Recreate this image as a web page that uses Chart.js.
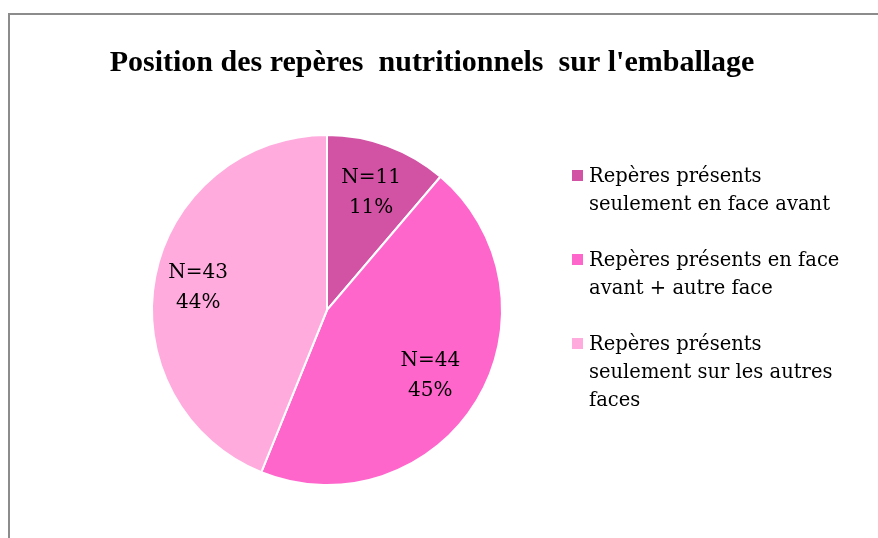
<!DOCTYPE html>
<html>
<head>
<meta charset="utf-8">
<script src="https://cdn.jsdelivr.net/npm/chart.js@4/dist/chart.umd.min.js"></script>
<style>
html,body{margin:0;padding:0;background:#fff;overflow:hidden;}
canvas{display:block;}
</style>
</head>
<body>
<canvas id="c" width="878" height="538"></canvas>
<script>
const chartTitle = "Position des repères  nutritionnels  sur l'emballage";
const categories = [
  ["Repères présents", "seulement en face avant"],
  ["Repères présents en face", "avant + autre face"],
  ["Repères présents", "seulement sur les autres", "faces"]
];
const counts = [11, 44, 43];
const percentLabels = ["11%", "45%", "44%"];
const colors = ["#D252A4", "#FF66CC", "#FFABDD"];

const TITLE_FONT = '"Liberation Serif", serif';
const BODY_FONT = '"DejaVu Serif", serif';

const decor = {
  id: 'decor',
  beforeDraw(chart) {
    const ctx = chart.ctx;
    ctx.save();
    ctx.fillStyle = '#fff';
    ctx.fillRect(0, 0, chart.width, chart.height);
    ctx.strokeStyle = '#8c8c8c';
    ctx.lineWidth = 2;
    ctx.beginPath();
    ctx.moveTo(9, 538);
    ctx.lineTo(9, 14);
    ctx.lineTo(878, 14);
    ctx.stroke();
    // title
    ctx.fillStyle = '#000';
    ctx.font = 'bold 30px ' + TITLE_FONT;
    ctx.textAlign = 'center';
    ctx.textBaseline = 'alphabetic';
    ctx.fillText(chartTitle, 432, 71);
    ctx.restore();
  },
  afterDraw(chart) {
    const ctx = chart.ctx;
    const meta = chart.getDatasetMeta(0);
    ctx.save();
    // data labels
    ctx.fillStyle = '#000';
    ctx.font = '20px ' + BODY_FONT;
    ctx.textAlign = 'center';
    ctx.textBaseline = 'alphabetic';
    const dist = [0.73, 0.69, 0.75];
    meta.data.forEach((arc, i) => {
      const p = arc.getProps(['x','y','startAngle','endAngle','outerRadius'], true);
      const mid = (p.startAngle + p.endAngle) / 2;
      const r = p.outerRadius * dist[i];
      const cx = p.x + Math.cos(mid) * r;
      const cy = p.y + Math.sin(mid) * r;
      ctx.fillText('N=' + counts[i], cx, cy - 7);
      ctx.fillText(percentLabels[i], cx, cy + 23);
    });
    // legend
    ctx.textAlign = 'left';
    ctx.font = '19.5px ' + BODY_FONT;
    let y = 182;
    categories.forEach((lines, i) => {
      ctx.fillStyle = colors[i];
      ctx.fillRect(572, y - 12, 11, 11);
      ctx.fillStyle = '#000';
      lines.forEach((ln, j) => {
        ctx.fillText(ln, 589, y + j * 28);
      });
      y += 84;
    });
    ctx.restore();
  }
};

new Chart(document.getElementById('c'), {
  type: 'pie',
  data: {
    labels: categories.map(l => l.join(' ')),
    datasets: [{
      data: counts,
      backgroundColor: colors,
      borderColor: '#fff',
      borderWidth: 2
    }]
  },
  options: {
    responsive: false,
    animation: false,
    layout: { padding: { left: 151, right: 375, top: 134, bottom: 52 } },
    plugins: {
      legend: { display: false },
      title: { display: false },
      tooltip: { enabled: false }
    }
  },
  plugins: [decor]
});
</script>
</body>
</html>
